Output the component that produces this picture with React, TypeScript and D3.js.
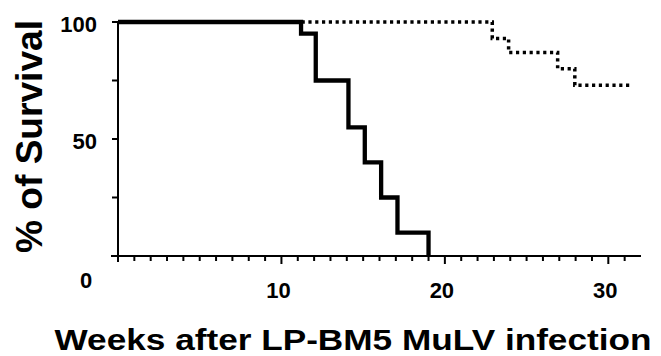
import * as d3 from 'd3';

// Kaplan-Meier survival
const solidWeeks = [0, 11.2, 12.1, 14.1, 15.1, 16.1, 17.1, 19.0];
const solidSurvival = [100, 95, 75, 55, 40, 25, 10, 0];

const dottedWeeks = [0, 22.9, 23.9, 26.9, 27.95, 31.3];
const dottedSurvival = [100, 93, 87, 80, 73, 73];

const xMinorTicks = d3.range(1, 32);
const xMajorTicks = [10, 20, 30];
const yTicks = [0, 25, 50, 75, 100];
const yLabels = [100, 50];

const W = 661;
const H = 356;
const font = '"Liberation Sans", Arial, Helvetica, sans-serif';

type Pt = { w: number; s: number };

export default function App() {
  const x = d3.scaleLinear().domain([0, 32]).range([118, 641]);
  const y = d3.scaleLinear().domain([0, 100]).range([256, 22]);

  const line = d3.line<Pt>()
    .x(d => x(d.w))
    .y(d => y(d.s))
    .curve(d3.curveStepAfter);

  const solid: Pt[] = solidWeeks.map((w, i) => ({ w, s: solidSurvival[i] }));
  const dotted: Pt[] = dottedWeeks.map((w, i) => ({ w, s: dottedSurvival[i] }));

  const x0 = x(0);
  const y0 = y(0);

  return (
    <svg width={W} height={H} style={{ position: 'absolute', left: 0, top: 0, background: '#fff' }}
      fontFamily={font} fontWeight="bold">
      {/* axes */}
      <line x1={x0 - 7} x2={x(32)} y1={y0} y2={y0} stroke="#000" strokeWidth={2} />
      <line x1={x0} x2={x0} y1={y(100)} y2={y0 + 6} stroke="#000" strokeWidth={2} />
      {yTicks.map(t => (
        <line key={'yt' + t} x1={x0 - 6} x2={x0} y1={y(t)} y2={y(t)} stroke="#000" strokeWidth={2} />
      ))}
      {xMinorTicks.map(t => (
        <line key={'xt' + t} x1={x(t)} x2={x(t)} y1={y0} y2={y0 + (xMajorTicks.includes(t) ? 8 : 5)}
          stroke="#000" strokeWidth={2} />
      ))}

      {/* tick labels */}
      {yLabels.map(t => (
        <text key={'yl' + t} x={x0 - 21} y={y(t) + 10} textAnchor="end" fontSize={22}>{t}</text>
      ))}
      <text x={x0 - 32} y={y0 + 32} textAnchor="middle" fontSize={22}>0</text>
      {xMajorTicks.map(t => (
        <text key={'xl' + t} x={x(t) - 3} y={y0 + 42} textAnchor="middle" fontSize={22}>{t}</text>
      ))}

      {/* survival curves */}
      <path d={line(dotted) ?? ''} fill="none" stroke="#000" strokeWidth={3.5} strokeDasharray="3.2 3.6" />
      <path d={line(solid) ?? ''} fill="none" stroke="#000" strokeWidth={4.3} strokeLinejoin="miter" />

      {/* axis titles */}
      <text x={353} y={350} textAnchor="middle" fontSize={30} textLength={597} lengthAdjust="spacingAndGlyphs">
        Weeks after LP-BM5 MuLV infection
      </text>
      <text transform="translate(42,136.5) rotate(-90)" textAnchor="middle" fontSize={36}
        textLength={233} lengthAdjust="spacingAndGlyphs">
        % of Survival
      </text>
    </svg>
  );
}
